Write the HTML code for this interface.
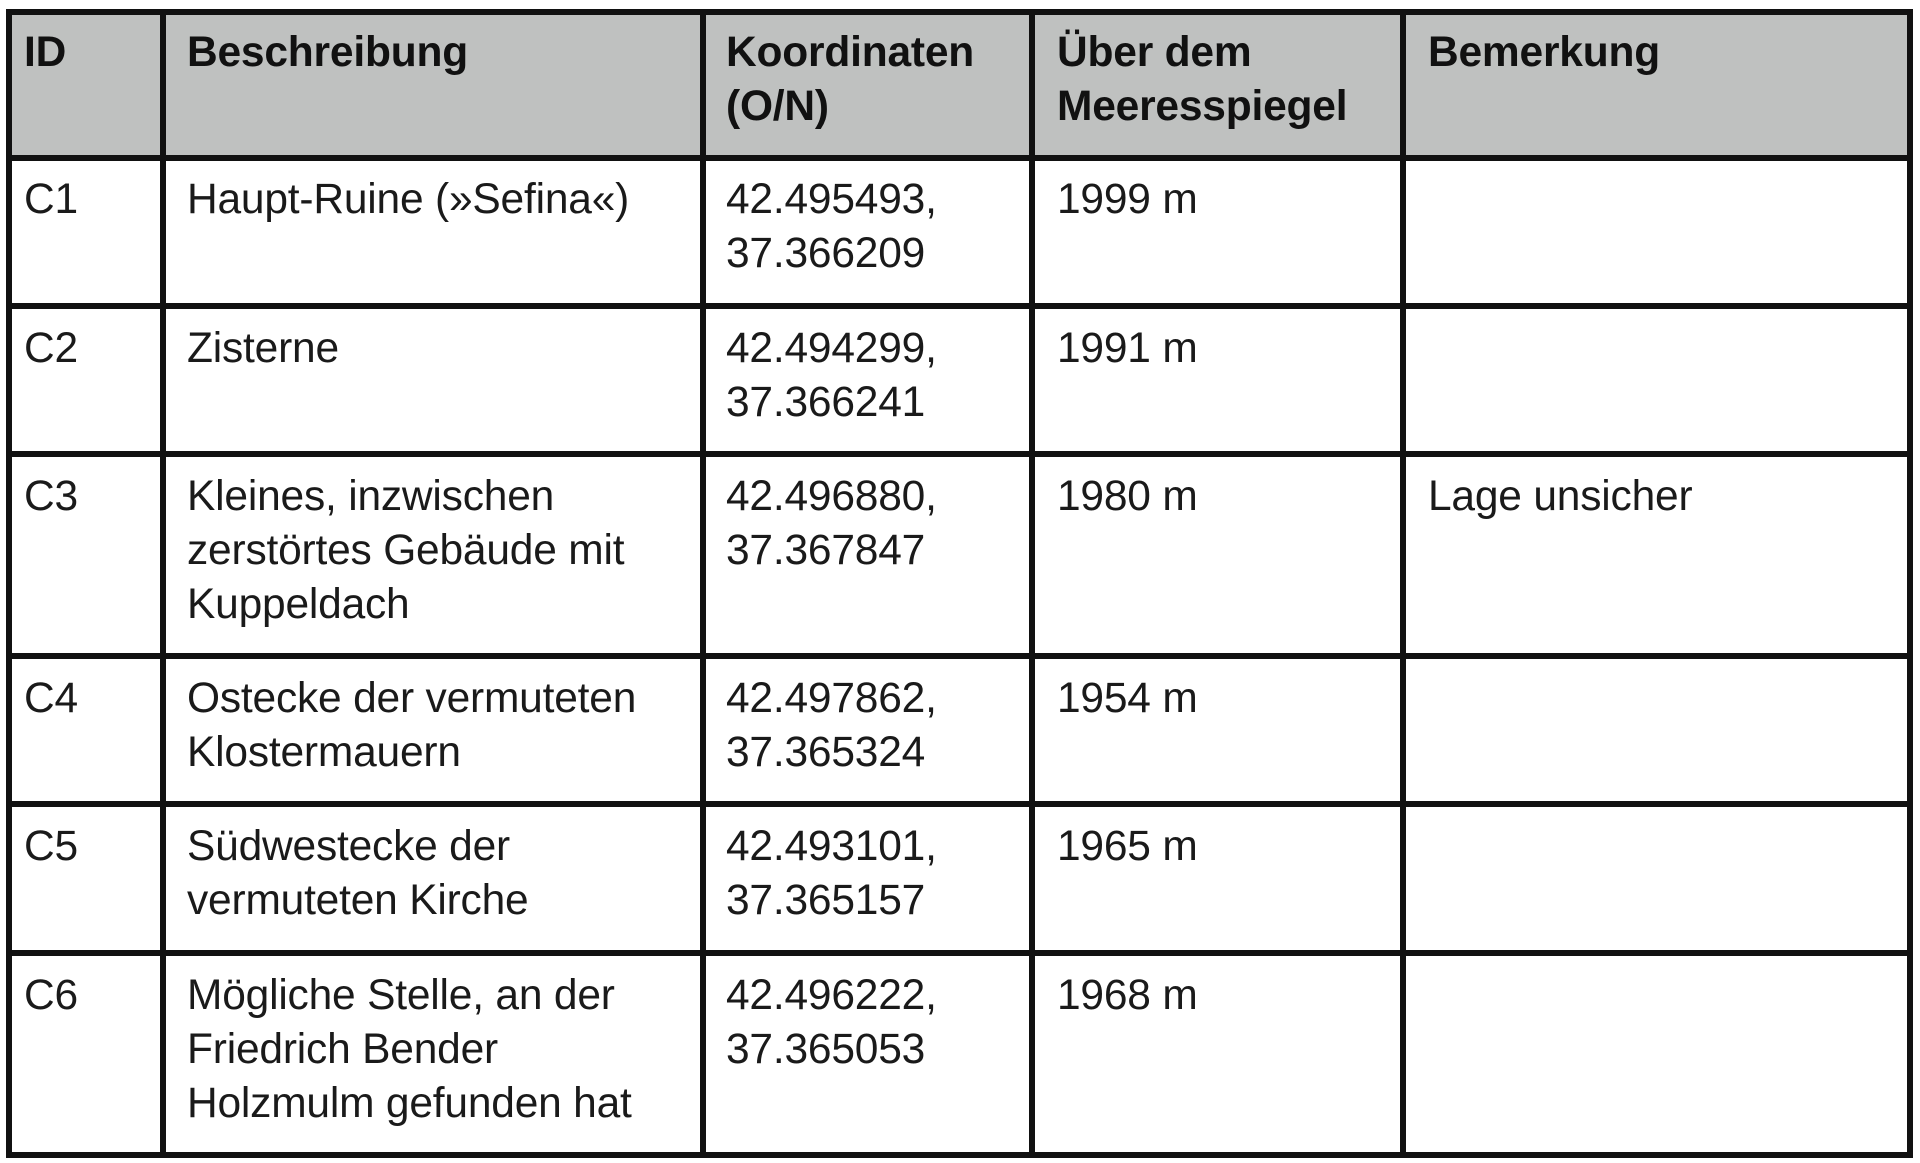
<!DOCTYPE html>
<html><head><meta charset="utf-8"><style>
html,body{margin:0;padding:0;background:#fff;}
body{width:1920px;height:1163px;position:relative;overflow:hidden;font-family:"Liberation Sans",sans-serif;color:#1a1a1a;}
.h{position:absolute;background:#111;height:6px;left:6px;width:1907px;}
.v{position:absolute;background:#111;width:6px;top:9px;height:1149px;}
.t{position:absolute;font-size:42.5px;line-height:54px;white-space:nowrap;letter-spacing:-0.2px;}
.b{font-weight:bold;color:#111;}
</style></head><body>
<div style="position:absolute;left:9px;top:12px;width:1901px;height:146px;background:#bfc1c0"></div>
<div class="h" style="top:9px"></div>
<div class="h" style="top:155px"></div>
<div class="h" style="top:303px"></div>
<div class="h" style="top:451px"></div>
<div class="h" style="top:653px"></div>
<div class="h" style="top:801px"></div>
<div class="h" style="top:950px"></div>
<div class="h" style="top:1152px"></div>
<div class="v" style="left:6px"></div>
<div class="v" style="left:160px"></div>
<div class="v" style="left:700px"></div>
<div class="v" style="left:1029px"></div>
<div class="v" style="left:1400px"></div>
<div class="v" style="left:1907px"></div>

<div class="t b" style="left:24px;top:26px">ID</div>
<div class="t b" style="left:187px;top:26px">Beschreibung</div>
<div class="t b" style="left:726px;top:26px">Koordinaten<br>(O/N)</div>
<div class="t b" style="left:1057px;top:26px">Über dem<br>Meeresspiegel</div>
<div class="t b" style="left:1428px;top:26px">Bemerkung</div>

<div class="t" style="left:24px;top:173px">C1</div>
<div class="t" style="left:187px;top:173px">Haupt-Ruine (»Sefina«)</div>
<div class="t" style="left:726px;top:173px">42.495493,<br>37.366209</div>
<div class="t" style="left:1057px;top:173px">1999 m</div>

<div class="t" style="left:24px;top:322px">C2</div>
<div class="t" style="left:187px;top:322px">Zisterne</div>
<div class="t" style="left:726px;top:322px">42.494299,<br>37.366241</div>
<div class="t" style="left:1057px;top:322px">1991 m</div>

<div class="t" style="left:24px;top:470px">C3</div>
<div class="t" style="left:187px;top:470px">Kleines, inzwischen<br>zerstörtes Gebäude mit<br>Kuppeldach</div>
<div class="t" style="left:726px;top:470px">42.496880,<br>37.367847</div>
<div class="t" style="left:1057px;top:470px">1980 m</div>
<div class="t" style="left:1428px;top:470px">Lage unsicher</div>

<div class="t" style="left:24px;top:672px">C4</div>
<div class="t" style="left:187px;top:672px">Ostecke der vermuteten<br>Klostermauern</div>
<div class="t" style="left:726px;top:672px">42.497862,<br>37.365324</div>
<div class="t" style="left:1057px;top:672px">1954 m</div>

<div class="t" style="left:24px;top:820px">C5</div>
<div class="t" style="left:187px;top:820px">Südwestecke der<br>vermuteten Kirche</div>
<div class="t" style="left:726px;top:820px">42.493101,<br>37.365157</div>
<div class="t" style="left:1057px;top:820px">1965 m</div>

<div class="t" style="left:24px;top:969px">C6</div>
<div class="t" style="left:187px;top:969px">Mögliche Stelle, an der<br>Friedrich Bender<br>Holzmulm gefunden hat</div>
<div class="t" style="left:726px;top:969px">42.496222,<br>37.365053</div>
<div class="t" style="left:1057px;top:969px">1968 m</div>
</body></html>
